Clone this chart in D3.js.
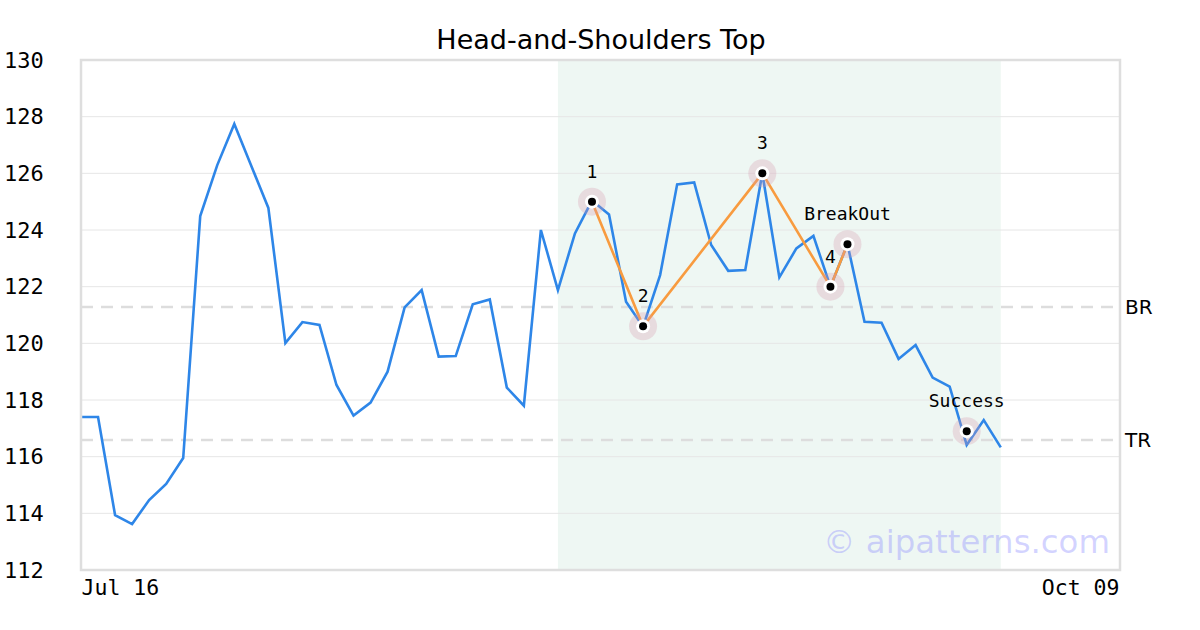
<!DOCTYPE html>
<html>
<head>
<meta charset="utf-8">
<script src="https://cdn.jsdelivr.net/npm/d3@7/dist/d3.min.js"></script>
<style>
  body { margin: 0; background: #fff; }
  svg { display: block; }
</style>
</head>
<body>
<svg id="chart" width="1200" height="630"></svg>
<script>
// ---- data ----
const title = "Head-and-Shoulders Top";
const prices = [117.4, 117.4, 113.94, 113.62, 114.47, 115.04, 115.95, 124.49, 126.29, 127.74,
  126.26, 124.78, 120.01, 120.75, 120.65, 118.53, 117.45, 117.91, 119.0, 121.27,
  121.88, 119.53, 119.55, 121.38, 121.55, 118.44, 117.8, 124.0, 121.88, 123.88,
  125.04, 124.55, 121.47, 120.59, 122.41, 125.61, 125.68, 123.47, 122.56, 122.59,
  126.0, 122.33, 123.35, 123.79, 122.0, 123.5, 120.76, 120.73, 119.45, 119.94,
  118.79, 118.47, 116.41, 117.29, 116.33];
const xDomain = [0, 61];
const xTickIdx = [0, 61];
const xTickLabels = ["Jul 16", "Oct 09"];
const yTicks = [112, 114, 116, 118, 120, 122, 124, 126, 128, 130];
const shadeRange = [28, 54];
const patternIdx = [30, 33, 40, 44, 45];
const patternVal = [125.0, 120.6, 126.0, 122.0, 123.5];
const patternLabels = ["1", "2", "3", "4", "BreakOut"];
const successIdx = 52;
const successVal = 116.9;
const successLabel = "Success";
const levelNames = ["BR", "TR"];
const levelVals = [121.28, 116.59];
const watermark = "\u00a9 aipatterns.com";

// ---- layout ----
const svg = d3.select("#chart");
const L = 81, R = 1120, T = 60, B = 570;
const x = d3.scaleLinear().domain(xDomain).range([L, R]);
const y = d3.scaleLinear().domain([112, 130]).range([B, T]);
const mono = "'DejaVu Sans Mono', monospace";
const sans = "'DejaVu Sans', sans-serif";

svg.append("rect").attr("width", 1200).attr("height", 630).attr("fill", "#fff");

// shaded pattern region
svg.append("rect")
  .attr("x", x(shadeRange[0])).attr("y", T)
  .attr("width", x(shadeRange[1]) - x(shadeRange[0])).attr("height", B - T)
  .attr("fill", "#eef7f3");

// grid
svg.append("g").selectAll("line").data(yTicks).join("line")
  .attr("x1", L).attr("x2", R)
  .attr("y1", d => y(d)).attr("y2", d => y(d))
  .attr("stroke", "#e6e6e6").attr("stroke-width", 1);

// y axis labels
const yAxis = d3.axisLeft(y).tickValues(yTicks).tickSize(0).tickPadding(0).tickFormat(d3.format("d"));
const yg = svg.append("g").attr("transform", `translate(4,0)`).call(yAxis);
yg.select(".domain").remove();
yg.selectAll("text").attr("text-anchor", "start").attr("x", 0)
  .attr("font-family", mono).attr("font-size", 22).attr("fill", "#000");

// x axis labels
const xAxis = d3.axisBottom(x).tickValues(xTickIdx).tickSize(0).tickPadding(0)
  .tickFormat((d, i) => xTickLabels[i]);
const xg = svg.append("g").attr("transform", `translate(0,${B})`).call(xAxis);
xg.select(".domain").remove();
xg.selectAll("text").attr("y", 25).attr("dy", 0)
  .attr("font-family", mono).attr("font-size", 21.5).attr("fill", "#000")
  .attr("text-anchor", (d, i) => i === 0 ? "start" : "end")
  .attr("dx", (d, i) => i === 0 ? 0 : -1);

// level lines
svg.append("g").selectAll("line").data(levelVals).join("line")
  .attr("x1", L).attr("x2", R)
  .attr("y1", d => y(d)).attr("y2", d => y(d))
  .attr("stroke", "#dddddd").attr("stroke-width", 2.5)
  .attr("stroke-dasharray", "12,8");
svg.append("g").selectAll("text").data(levelVals).join("text")
  .attr("x", R + 5).attr("y", d => y(d) + 7)
  .attr("font-family", sans).attr("font-size", 20).attr("fill", "#000")
  .text((d, i) => levelNames[i]);

// price line
const line = d3.line().x((d, i) => x(i)).y(d => y(d));
svg.append("path").datum(prices).attr("d", line)
  .attr("fill", "none").attr("stroke", "#2e86e8").attr("stroke-width", 2.6)
  .attr("stroke-linejoin", "miter");

// pattern line
const pline = d3.line().x((d, i) => x(patternIdx[i])).y(d => y(d));
svg.append("path").datum(patternVal).attr("d", pline)
  .attr("fill", "none").attr("stroke", "#f89b3f").attr("stroke-width", 2.6);

// markers
const markers = patternIdx.map((d, i) => ({ i: d, v: patternVal[i], label: patternLabels[i] }));
markers.push({ i: successIdx, v: successVal, label: successLabel });
const mg = svg.append("g").selectAll("g").data(markers).join("g")
  .attr("transform", d => `translate(${x(d.i)},${y(d.v)})`);
mg.append("circle").attr("r", 14).attr("fill", "rgba(215,155,175,0.3)");
mg.append("circle").attr("r", 7).attr("fill", "#fff");
mg.append("circle").attr("r", 4).attr("fill", "#000");
mg.append("text").attr("y", -24).attr("text-anchor", "middle")
  .attr("font-family", mono).attr("font-size", 18).attr("fill", "#000")
  .text(d => d.label);

// watermark
svg.append("text").attr("x", 1110).attr("y", 553).attr("text-anchor", "end")
  .attr("font-family", sans).attr("font-size", 32.4).attr("fill", "rgba(140,140,255,0.38)")
  .text(watermark);

// plot frame
svg.append("rect").attr("x", L).attr("y", T).attr("width", R - L).attr("height", B - T)
  .attr("fill", "none").attr("stroke", "#dedede").attr("stroke-width", 2.5);

// title
svg.append("text").attr("x", 601).attr("y", 49).attr("text-anchor", "middle")
  .attr("font-family", sans).attr("font-size", 27).attr("fill", "#000")
  .text(title);
</script>
</body>
</html>
